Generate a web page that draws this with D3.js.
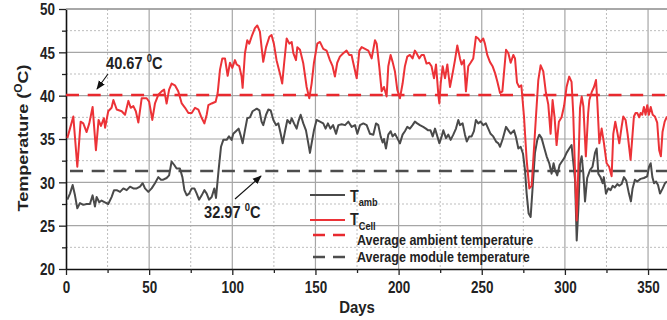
<!DOCTYPE html>
<html>
<head>
<meta charset="utf-8">
<script src="https://cdn.jsdelivr.net/npm/d3@7"></script>
<style>
  html, body { margin: 0; padding: 0; background: #fff; }
  text { font-family: "Liberation Sans", Arial, sans-serif; font-weight: bold; fill: #222; }
</style>
</head>
<body>
<script>
const width = 667;
const height = 320;

// T_cell samples (day, °C)
const cellDay = [0.8,4.4,6.8,8.8,10.4,12.4,14,16,18,19.6,21,22.8,23.5,25.4,27.4,28.5,30.5,33.5,35.5,37.5,38.9,40.5,42,43.5,45.5,48.5,50,51.9,53.5,55.5,57.5,59,60.5,62,63.5,65.5,67.5,69.6,71.6,73.6,75.6,77.6,79.6,81.2,83.2,84.6,85.6,87.6,90,91.2,92.6,94,95.6,97.2,98.6,100,101.6,102.6,104.2,105.6,106.2,107.6,109,110.2,111.6,113.6,115,116.6,117.6,118.6,120.3,122.3,123.6,125,126.6,128.6,130,131.2,132.7,134.3,135.7,136.7,138.3,139.1,140.7,142.7,144.7,146.3,147.7,149.1,151.1,152.7,154.7,156.7,158.7,160.3,161.7,163.1,164.7,166.7,168.7,170.3,171.7,173.2,174.8,176.4,177.8,179.8,181.8,183.8,185.8,186.8,188.4,189.8,191.2,192.8,193.8,195.2,196.4,197.8,199.2,200.8,202.4,203.8,205.2,206.8,208.4,209.8,210.8,212.4,213.8,215.2,216.8,218.4,219.8,221.3,222.5,223.9,224.5,225.3,226.5,227.9,229.3,230.9,232.5,233.9,235.3,236.9,237.9,239.3,240.5,241.9,243.3,244.9,246.5,247.9,249.3,250.9,251.9,253.3,254.9,256.5,258,259.4,261,262.4,264.6,266,267.4,269,270,271.2,272.5,273.8,275.4,277,278.6,280,281,282.6,284,285.4,287,288.6,290,291.4,292.6,293.8,295,296.4,298,299.5,301,302.6,304,305,306,307.1,308.1,309.1,310.1,311.1,312.6,314,314.7,316.1,317.5,318.7,319.5,320.7,322.1,323.5,325.1,326.6,328.1,329.1,330.3,331.5,332.7,334.1,335.1,336.5,337.7,339.5,340.7,341.5,342.5,343.5,344.7,345.5,346.5,347.5,348.5,349.5,350.5,351.6,352.8,354.1,355.5,356.7,357.7,358.7,360,361.4];
const cellTemp = [35.1,37.6,31.8,37.0,36.8,35.8,36.8,38.7,33.7,37.2,36.5,37.4,36.3,38.2,38.6,39.5,38.4,38.2,37.8,39.4,38.6,38.8,38.2,36.9,39.7,39.7,39.3,37.2,39.1,40.1,40.5,40.7,39.1,40.7,41.4,41.2,40.5,39.1,38.6,38.0,38.0,38.6,38.4,37.6,36.8,37.8,38.9,39.1,39.3,40.3,43.0,44.3,44.3,42.3,43.8,43.2,44.1,43.6,43.4,42.2,40.9,44.9,46.4,46.0,46.8,47.8,48.1,47.4,45.6,43.9,45.6,46.8,47.0,46.0,44.1,42.6,41.4,43.8,46.6,46.0,46.2,44.9,44.1,45.6,45.3,43.7,41.0,39.7,41.4,43.8,46.0,46.2,45.4,45.2,44.1,43.4,42.2,43.8,44.5,44.9,45.2,44.7,44.7,43.4,42.0,45.2,45.6,45.4,45.2,44.3,46.4,46.0,43.3,40.5,41.0,39.9,43.4,44.7,43.9,42.8,40.7,39.7,41.4,43.4,44.5,44.7,44.3,45.2,44.9,44.3,44.7,44.7,43.7,43.8,43.4,42.0,43.6,40.1,39.1,41.4,43.4,42.0,43.6,41.0,42.6,44.1,45.8,44.3,43.6,44.1,40.5,43.4,43.8,44.3,46.8,46.6,46.2,46.6,46.0,44.7,43.9,43.4,42.6,41.6,40.3,40.5,45.3,44.9,43.8,44.7,44.3,41.5,41.0,41.2,37.6,32.6,29.3,29.6,32.6,37.6,41.8,43.5,42.8,40.3,39.0,35.6,39.5,37.5,34.3,37.0,37.5,38.8,41.0,42.2,41.6,38.0,31.8,25.6,31.8,38.6,39.9,38.8,33.0,38.0,39.5,40.4,41.0,41.8,39.3,34.5,36.2,34.5,32.2,31.8,30.7,35.6,37.0,35.8,34.5,36.4,37.6,37.2,35.6,32.6,35.6,37.6,38.0,38.0,37.5,38.0,37.8,38.7,37.8,38.9,37.8,38.7,37.8,37.6,36.9,33.7,33.0,35.8,37.0,37.6];

// T_amb samples (day, °C)
const ambDay = [0.8,2.4,4,5.4,6.8,8.4,10.4,12.4,14.4,16,17.4,18.4,20,21.4,23.4,25.4,27.4,28.9,30.5,32.5,34.5,36.5,38.5,40.5,42.5,44.5,46.1,47.5,49.5,51.5,53.5,55.5,57.1,58.5,60.5,62,63.5,65.1,66.5,68.5,70,71.2,72.6,74,75.6,77.2,78.6,80,81.6,83.2,84.6,86,87.6,89.2,90.2,91.8,93.2,94.6,96.6,98,99.6,100.6,102.2,103.8,105.2,106.2,107.6,109,110.6,112.2,114.7,116.3,117.6,118.6,120.3,121.7,123.1,124.7,126.3,127.7,129.1,130.3,131.7,133.1,134.7,135.7,137.1,138.7,139.7,141.1,142.7,144.3,145.7,146.7,147.7,149.1,150.7,152.7,154.7,156.1,157.5,159,160.6,162.4,163.8,165.8,167.8,169.8,171.8,173.8,175.2,176.8,178.8,180.8,182.8,184.8,186.4,187.8,189.2,190.4,191.2,192.4,193.8,195.2,196.4,197.8,199.2,200.8,202.4,203.8,205.2,206.8,208.4,209.8,211.2,212.8,214.8,216.4,217.8,219.2,220.5,221.9,223.3,224.5,225.9,226.9,228.5,229.9,231.3,232.9,234.5,235.9,236.9,238.5,239.9,241,242.5,243.9,245.3,246.5,247.9,249.3,250.9,252.5,253.9,255.3,256.9,258.6,260,261,262.6,264.6,266,267.4,269.4,270.6,272,273.4,274.8,276,277,278.2,279.4,280.8,282,283.4,284.6,286,287.4,289,290.6,292,293.2,294,295.4,296.8,298.2,299.6,301,302.6,304,305,306.1,307.1,308.1,309.1,310.1,311.1,312.1,313.4,315.1,316.6,318.1,319.1,320.1,321.4,322.7,323.4,324.7,326.1,327.5,328.7,330,331.5,332.7,334.1,335.5,336.9,338.5,339.7,340.7,342.1,343.5,345.5,347.5,349.5,350.6,351.6,352.6,353.6,354.8,356,357.2,358.8,360.2,361.4];
const ambTemp = [28.0,28.7,29.7,28.5,27.0,27.6,27.4,27.5,27.5,28.5,27.2,28.3,27.7,27.9,27.7,27.5,28.3,29.1,29.1,28.9,29.3,29.1,29.5,29.3,29.3,29.5,29.9,29.3,28.9,29.3,29.9,30.6,30.3,30.3,30.5,30.8,32.4,32.0,31.6,31.6,30.6,29.1,28.5,28.7,29.3,29.3,28.7,28.0,28.5,29.1,28.7,28.0,28.3,29.3,28.2,31.5,34.1,34.9,34.9,35.3,34.9,35.6,35.9,36.2,35.3,34.5,36.0,37.4,37.5,38.2,38.5,38.3,37.0,36.6,37.8,38.4,38.3,37.2,36.6,36.8,35.6,34.5,35.9,37.2,36.8,37.4,36.8,36.2,37.0,37.8,36.8,36.0,34.5,33.4,34.5,36.0,37.2,37.0,36.8,36.2,36.8,36.2,36.6,35.6,36.6,36.7,36.6,37.0,36.4,36.6,35.6,36.6,36.8,36.6,35.6,35.5,36.8,36.6,35.3,34.6,35.0,33.9,35.5,35.9,35.3,35.6,35.1,34.5,35.5,35.9,36.4,36.2,36.6,37.0,36.8,36.6,36.4,36.2,36.0,36.0,35.3,36.2,35.3,34.5,35.3,36.0,35.1,35.5,34.9,35.5,36.2,37.2,36.6,36.8,35.5,34.7,35.3,35.3,35.9,37.2,36.8,37.0,36.6,36.8,36.2,35.6,35.3,34.7,34.5,34.1,35.0,36.4,36.0,35.6,36.0,35.2,33.9,34.1,33.3,31.4,28.7,26.4,26.0,30.0,33.4,34.9,35.5,35.1,34.1,33.0,32.2,31.0,32.2,31.5,30.8,32.0,32.4,32.8,33.4,33.9,34.3,32.4,30.3,23.3,27.0,32.2,33.0,31.0,27.8,30.5,31.4,31.8,33.4,33.9,31.0,30.6,29.9,30.6,28.7,29.3,29.1,29.6,29.4,29.8,29.6,29.8,30.6,30.2,28.7,27.8,29.3,30.3,30.1,30.4,30.5,30.7,31.8,32.2,30.6,29.9,30.1,29.7,28.7,29.3,29.9,30.1];

// horizontal average lines as drawn
const avgNames = ["Average ambient temperature", "Average module temperature"];
const avgValues = [40.08, 31.3];
const avgColors = ["#e8292e", "#4d4d4d"];

const xTicks = [0, 50, 100, 150, 200, 250, 300, 350];
const yTicks = [20, 25, 30, 35, 40, 45, 50];

const plot = { left: 66, top: 9, bottom: 269 };

const x = d3.scaleLinear().domain([0, 365]).range([plot.left, plot.left + 365 * 1.663]);
const y = d3.scaleLinear().domain([20, 50]).range([plot.bottom, plot.top]);

const svg = d3.select("body").append("svg")
    .attr("width", width)
    .attr("height", height);

const defs = svg.append("defs");
defs.append("clipPath").attr("id", "clip")
  .append("rect")
    .attr("x", plot.left).attr("y", plot.top - 2)
    .attr("width", width - plot.left).attr("height", plot.bottom - plot.top + 4);
defs.append("marker")
    .attr("id", "arrow")
    .attr("viewBox", "0 0 10 10")
    .attr("refX", 9).attr("refY", 5)
    .attr("markerWidth", 9).attr("markerHeight", 9)
    .attr("markerUnits", "userSpaceOnUse")
    .attr("orient", "auto")
  .append("path")
    .attr("d", "M0,1 L10,5 L0,9 Z")
    .attr("fill", "#111");

// grid: solid at major ticks, dotted at the half steps
const grid = svg.append("g");
const xMinor = d3.range(25, 366, 50);
const yMinor = d3.range(22.5, 50, 5);
grid.selectAll(".gxm").data(xTicks.slice(1)).join("line")
    .attr("x1", d => x(d)).attr("x2", d => x(d))
    .attr("y1", plot.top).attr("y2", plot.bottom)
    .attr("stroke", "#a6a6a6").attr("stroke-width", 1.2);
grid.selectAll(".gxn").data(xMinor).join("line")
    .attr("x1", d => x(d)).attr("x2", d => x(d))
    .attr("y1", plot.top).attr("y2", plot.bottom)
    .attr("stroke", "#bdbdbd").attr("stroke-width", 1).attr("stroke-dasharray", "2,2");
grid.selectAll(".gym").data(yTicks.slice(1)).join("line")
    .attr("x1", plot.left).attr("x2", width)
    .attr("y1", d => y(d)).attr("y2", d => y(d))
    .attr("stroke", "#a6a6a6").attr("stroke-width", 1.2);
grid.selectAll(".gyn").data(yMinor).join("line")
    .attr("x1", plot.left).attr("x2", width)
    .attr("y1", d => y(d)).attr("y2", d => y(d))
    .attr("stroke", "#bdbdbd").attr("stroke-width", 1).attr("stroke-dasharray", "2,2");

// axes
const xAxis = svg.append("g")
    .attr("transform", `translate(0,${plot.bottom})`)
    .call(d3.axisBottom(x).tickValues(xTicks).tickSize(6).tickSizeOuter(0));
svg.append("g")
    .attr("transform", `translate(0,${plot.bottom})`)
    .call(d3.axisBottom(x).tickValues(xMinor).tickSize(4).tickFormat("").tickSizeOuter(0))
    .select(".domain").remove();
const yAxis = svg.append("g")
    .attr("transform", `translate(${plot.left},0)`)
    .call(d3.axisLeft(y).tickValues(yTicks).tickSize(7).tickSizeOuter(0));
svg.append("g")
    .attr("transform", `translate(${plot.left},0)`)
    .call(d3.axisLeft(y).tickValues(yMinor).tickSize(4).tickFormat("").tickSizeOuter(0))
    .select(".domain").remove();

svg.selectAll(".domain").attr("stroke", "#111").attr("stroke-width", 1.6);
svg.selectAll(".tick line").attr("stroke", "#222").attr("stroke-width", 1.3);

// tick labels, squeezed sideways like the figure's font
xAxis.selectAll("text")
    .attr("x", 0).attr("y", 24).attr("dy", null)
    .attr("font-size", 16).attr("font-family", "Liberation Sans, Arial, sans-serif")
    .attr("font-weight", "bold").attr("fill", "#222")
    .attr("transform", "scale(0.84,1)");
yAxis.selectAll("text")
    .attr("x", -11 / 0.84).attr("dy", "0.36em")
    .attr("font-size", 16).attr("font-family", "Liberation Sans, Arial, sans-serif")
    .attr("font-weight", "bold").attr("fill", "#222")
    .attr("transform", "scale(0.84,1)");

// top border of the plot
svg.append("line")
    .attr("x1", plot.left).attr("x2", width)
    .attr("y1", y(50)).attr("y2", y(50))
    .attr("stroke", "#9a9a9a").attr("stroke-width", 1.4);

// average lines
const lines = svg.append("g").attr("clip-path", "url(#clip)");
lines.selectAll(".avg").data(avgValues).join("line")
    .attr("x1", (d, i) => i === 0 ? plot.left : plot.left + 4).attr("x2", width)
    .attr("y1", d => y(d)).attr("y2", d => y(d))
    .attr("stroke", (d, i) => avgColors[i])
    .attr("stroke-width", 2.4)
    .attr("stroke-dasharray", "13,8.7");

// series
const line = d3.line().x(d => x(d[0])).y(d => y(d[1]));
lines.append("path")
    .datum(ambDay.map((d, i) => [d, ambTemp[i]]))
    .attr("d", line)
    .attr("fill", "none").attr("stroke", "#4a4a4a").attr("stroke-width", 2)
    .attr("stroke-linejoin", "round");
lines.append("path")
    .datum(cellDay.map((d, i) => [d, cellTemp[i]]))
    .attr("d", line)
    .attr("fill", "none").attr("stroke", "#ec3237").attr("stroke-width", 2)
    .attr("stroke-linejoin", "round");

// text helper: figure text is a bit squeezed sideways
function label(px, py, size, anchor, sx) {
    return svg.append("text")
        .attr("transform", `translate(${px},${py}) scale(${sx},1)`)
        .attr("font-size", size)
        .attr("text-anchor", anchor);
}

// axis titles
label(357, 313, 17, "middle", 0.88).text("Days");
const yt = svg.append("text")
    .attr("transform", "translate(28,138) rotate(-90) scale(1,0.84)")
    .attr("font-size", 18)
    .attr("text-anchor", "middle");
yt.append("tspan").text("Temperature (");
yt.append("tspan").attr("font-size", 12).attr("dy", -7).text("O");
yt.append("tspan").attr("dy", 7).text("C)");

// annotations
const a1 = label(106, 69, 17, "start", 0.86);
a1.append("tspan").text("40.67 ");
a1.append("tspan").attr("font-size", 11).attr("dy", -7).text("0");
a1.append("tspan").attr("dy", 7).text("C");
svg.append("line")
    .attr("x1", 108).attr("y1", 74).attr("x2", 97).attr("y2", 89)
    .attr("stroke", "#111").attr("stroke-width", 1.1)
    .attr("marker-end", "url(#arrow)");

const a2 = label(204, 218, 17, "start", 0.86);
a2.append("tspan").text("32.97 ");
a2.append("tspan").attr("font-size", 11).attr("dy", -7).text("0");
a2.append("tspan").attr("dy", 7).text("C");
svg.append("line")
    .attr("x1", 235).attr("y1", 199).attr("x2", 261).attr("y2", 176)
    .attr("stroke", "#111").attr("stroke-width", 1.1)
    .attr("marker-end", "url(#arrow)");

// legend
const leg = svg.append("g");
leg.append("line").attr("x1", 310).attr("x2", 345).attr("y1", 195).attr("y2", 195)
    .attr("stroke", "#4a4a4a").attr("stroke-width", 2);
leg.append("line").attr("x1", 310).attr("x2", 345).attr("y1", 220).attr("y2", 220)
    .attr("stroke", "#ec3237").attr("stroke-width", 2);
leg.append("line").attr("x1", 313).attr("x2", 346).attr("y1", 235).attr("y2", 235)
    .attr("stroke", avgColors[0]).attr("stroke-width", 2.4).attr("stroke-dasharray", "12,8");
leg.append("line").attr("x1", 313).attr("x2", 346).attr("y1", 257).attr("y2", 257)
    .attr("stroke", avgColors[1]).attr("stroke-width", 2.4).attr("stroke-dasharray", "12,8");

const t1 = label(350, 202, 17, "start", 0.84);
t1.append("tspan").text("T");
t1.append("tspan").attr("font-size", 11).attr("dy", 4).text("amb");
const t2 = label(350, 225, 17, "start", 0.84);
t2.append("tspan").text("T");
t2.append("tspan").attr("font-size", 11).attr("dy", 5).text("Cell");
label(357, 244.5, 14, "start", 0.895).text(avgNames[0]);
label(357, 261.5, 14, "start", 0.895).text(avgNames[1]);
</script>
</body>
</html>
